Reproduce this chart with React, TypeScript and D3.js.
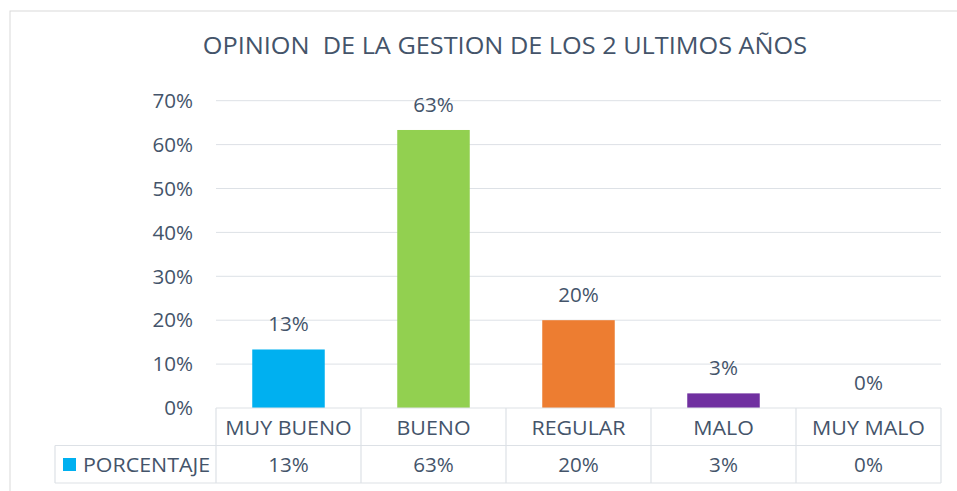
import React from "react";
import * as d3 from "d3";

const title = "OPINION  DE LA GESTION DE LOS 2 ULTIMOS AÑOS";
const categories = ["MUY BUENO", "BUENO", "REGULAR", "MALO", "MUY MALO"];
const values = [0.1333, 0.6333, 0.2, 0.0333, 0];
const valueLabels = ["13%", "63%", "20%", "3%", "0%"];
const barColors = ["#00B0F0", "#92D050", "#ED7D31", "#7030A0", "#4472C4"];
const yTicks = [0, 0.1, 0.2, 0.3, 0.4, 0.5, 0.6, 0.7];
const seriesName = "PORCENTAJE";

const W = 957;
const H = 491;
const FONT = "'Open Sans', sans-serif";
const TEXT = "#44546A";
const GRID = "#DDE1E6";

function T({ x, y, size = 20, sx = 1.07, anchor = "middle", dy, children }: any) {
  return (
    <text transform={`translate(${x},${y}) scale(${sx},1)`} dy={dy} textAnchor={anchor} fontSize={size} fill={TEXT} style={{ whiteSpace: "pre" }}>
      {children}
    </text>
  );
}

export default function App() {
  const left = 216, right = 941, top = 100.7, bottom = 408;
  const x = d3.scaleBand<string>().domain(categories).range([left, right]).paddingInner(0.5).paddingOuter(0.25);
  const xCell = d3.scaleBand<string>().domain(categories).range([left, right]);
  const y = d3.scaleLinear().domain([0, 0.7]).range([bottom, top]);
  const fmt = d3.format(".0%");
  const row1 = 445.5, row2 = 483;
  const legendLeft = 55;

  return (
    <svg width={W} height={H} style={{ position: "absolute", left: 0, top: 0, background: "#fff" }} fontFamily={FONT}>
      <rect x={10} y={11} width={W} height={H} fill="#fff" stroke="#D9D9D9" strokeWidth={1} />
      <T x={505} y={54} size={23} sx={1.1}>{title}</T>
      {yTicks.map((t) => (
        <g key={t}>
          {t > 0 && <line x1={left} x2={right} y1={y(t)} y2={y(t)} stroke={GRID} strokeWidth={1} />}
          <T x={193} y={y(t)} dy="0.36em" anchor="end" sx={1.03}>{fmt(t)}</T>
        </g>
      ))}
      {categories.map((c, i) => (
        <g key={c}>
          <rect x={x(c)} y={y(values[i])} width={x.bandwidth()} height={bottom - y(values[i])} fill={barColors[i]} />
          <T x={(x(c) as number) + x.bandwidth() / 2} y={y(values[i]) - 18} sx={1.03}>{valueLabels[i]}</T>
        </g>
      ))}
      <g stroke={GRID} strokeWidth={1.2} fill="none">
        <line x1={left} x2={right} y1={bottom} y2={bottom} />
        <line x1={legendLeft} x2={right} y1={row1} y2={row1} />
        <line x1={legendLeft} x2={right} y1={row2} y2={row2} />
        <line x1={legendLeft} x2={legendLeft} y1={row1} y2={row2} />
        {categories.map((c) => (
          <line key={c} x1={xCell(c)} x2={xCell(c)} y1={bottom} y2={row2} />
        ))}
        <line x1={right} x2={right} y1={bottom} y2={row2} />
      </g>
      {categories.map((c, i) => (
        <g key={c}>
          <T x={(xCell(c) as number) + xCell.bandwidth() / 2} y={435}>{c}</T>
          <T x={(xCell(c) as number) + xCell.bandwidth() / 2} y={472} sx={1.03}>{valueLabels[i]}</T>
        </g>
      ))}
      <rect x={63} y={458} width={13} height={13} fill={barColors[0]} />
      <T x={83} y={472} anchor="start">{seriesName}</T>
    </svg>
  );
}
